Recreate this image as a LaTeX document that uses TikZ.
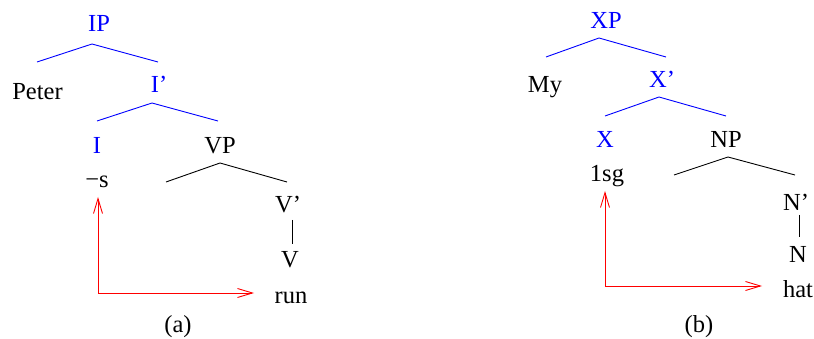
\documentclass[tikz,border=0pt]{standalone}
\usepackage{fontspec}
\setmainfont{Liberation Serif}
\usetikzlibrary{arrows.meta}
\begin{document}
\begin{tikzpicture}[x=1pt,y=-1pt,
  lbl/.style={anchor=base,inner sep=0pt,font=\fontsize{24.5}{28}\selectfont},
  cat/.style={lbl,text=blue},
  bline/.style={draw=blue,line width=0.9pt},
  kline/.style={draw=black,line width=0.9pt},
  movearrow/.style={draw=red,line width=0.9pt,{Straight Barb[length=15pt,width=9pt]}-{Straight Barb[length=15pt,width=9pt]}}]
\useasboundingbox (0,0) rectangle (814,339);
% ---- tree (a)
\node[cat] (IP) at (99,32) {IP};
\node[lbl] (Peter) at (37.5,100) {Peter};
\node[cat] (Ibar) at (159,93) {I'};
\node[cat] (I) at (97,154) {I};
\node[lbl] (VP) at (220,154) {VP};
\node[lbl] (s) at (97,188) {−s};
\node[lbl] (Vbar) at (288,213) {V'};
\node[lbl] (V) at (290,268) {V};
\node[lbl] (run) at (291,303) {run};
\node[lbl] (capa) at (178,332) {(a)};
\coordinate (IPt) at (92,44); \coordinate (IPl) at (37,62); \coordinate (IPr) at (158,62);
\coordinate (Ibt) at (152,103); \coordinate (Ibl) at (97,121); \coordinate (Ibr) at (218,121);
\coordinate (VPt) at (220,163); \coordinate (VPl) at (166,182); \coordinate (VPr) at (287,182);
\coordinate (Vbb) at (292,220); \coordinate (Vt) at (292,244);
\draw[bline] (IPl) -- (IPt) -- (IPr);
\draw[bline] (Ibl) -- (Ibt) -- (Ibr);
\draw[kline] (VPl) -- (VPt) -- (VPr);
\draw[kline] (Vbb) -- (Vt);
\coordinate (aup) at (98,197); \coordinate (acorner) at (98,293); \coordinate (aright) at (254,293);
\draw[movearrow] (aup) -- (acorner) -- (aright);
% ---- tree (b)
\node[cat] (XP) at (606,29) {XP};
\node[lbl] (My) at (545,93) {My};
\node[cat] (Xbar) at (662,88) {X'};
\node[cat] (X) at (605,148) {X};
\node[lbl] (NP) at (726,148) {NP};
\node[lbl] (sg) at (607,182) {1sg};
\node[lbl] (Nbar) at (796,211) {N'};
\node[lbl] (N) at (798,262) {N};
\node[lbl] (hat) at (798,297) {hat};
\node[lbl] (capb) at (699,332) {(b)};
\coordinate (XPt) at (599,38); \coordinate (XPl) at (546,57); \coordinate (XPr) at (666,57);
\coordinate (Xbt) at (659,97); \coordinate (Xbl) at (605,116); \coordinate (Xbr) at (726,116);
\coordinate (NPt) at (728,157); \coordinate (NPl) at (674,175); \coordinate (NPr) at (795,175);
\coordinate (Nbb) at (799,215); \coordinate (Nt) at (799,237);
\draw[bline] (XPl) -- (XPt) -- (XPr);
\draw[bline] (Xbl) -- (Xbt) -- (Xbr);
\draw[kline] (NPl) -- (NPt) -- (NPr);
\draw[kline] (Nbb) -- (Nt);
\coordinate (bup) at (605,191); \coordinate (bcorner) at (605,286); \coordinate (bright) at (762,286);
\draw[movearrow] (bup) -- (bcorner) -- (bright);
\end{tikzpicture}
\end{document}
